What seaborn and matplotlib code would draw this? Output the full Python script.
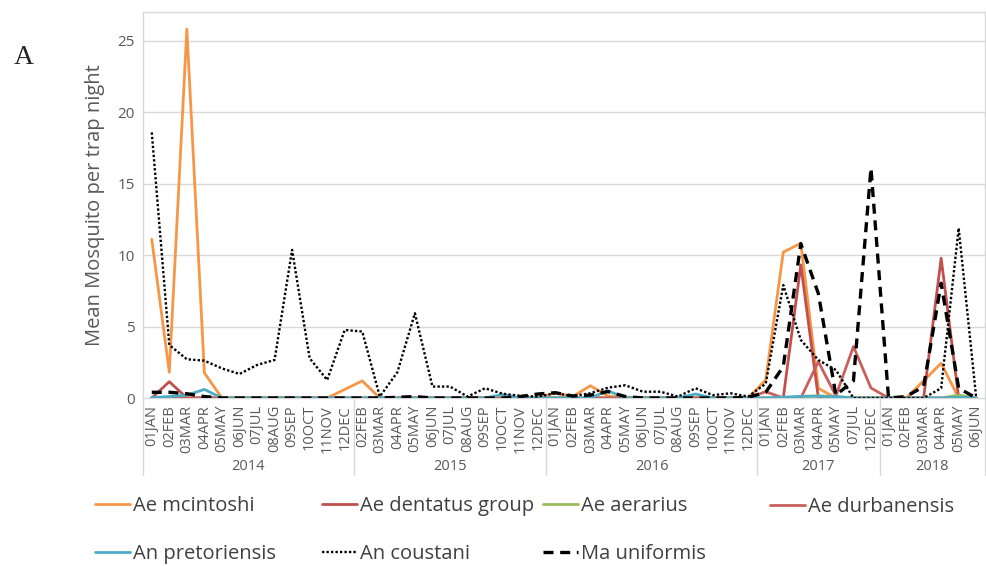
import numpy as np
import pandas as pd
import matplotlib
matplotlib.use("Agg")
import matplotlib.pyplot as plt
import matplotlib.transforms as mtransforms
from matplotlib.lines import Line2D
import seaborn as sns

# ---------------- data ----------------
years = ["2014", "2015", "2016", "2017", "2018"]
months_2014 = ["01JAN", "02FEB", "03MAR", "04APR", "05MAY", "06JUN", "07JUL", "08AUG", "09SEP", "10OCT", "11NOV", "12DEC"]
months_2015 = ["02FEB", "03MAR", "04APR", "05MAY", "06JUN", "07JUL", "08AUG", "09SEP", "10OCT", "11NOV", "12DEC"]
months_2016 = ["01JAN", "02FEB", "03MAR", "04APR", "05MAY", "06JUN", "07JUL", "08AUG", "09SEP", "10OCT", "11NOV", "12DEC"]
months_2017 = ["01JAN", "02FEB", "03MAR", "04APR", "05MAY", "07JUL", "12DEC"]
months_2018 = ["01JAN", "02FEB", "03MAR", "04APR", "05MAY", "06JUN"]
month_groups = [months_2014, months_2015, months_2016, months_2017, months_2018]

ae_mcintoshi = [11.1, 1.8, 25.8, 1.75, 0, 0, 0, 0, 0, 0, 0, 0.6,
                1.2, 0, 0, 0, 0, 0, 0, 0, 0, 0, 0,
                0.37, 0.1, 0.86, 0.14, 0, 0, 0, 0, 0, 0, 0, 0,
                1.26, 10.2, 10.83, 0.68, 0, 0, 0,
                0, 0, 1.2, 2.43, 0, 0]
ae_dentatus = [0, 1.14, 0, 0, 0, 0, 0, 0, 0, 0, 0, 0,
               0, 0, 0, 0, 0, 0, 0, 0, 0, 0, 0,
               0, 0, 0, 0, 0, 0, 0, 0, 0, 0, 0, 0,
               0, 0, 9.31, 0, 0, 0, 0,
               0, 0, 0, 9.78, 0, 0]
ae_aerarius = [0, 0, 0, 0, 0, 0, 0, 0, 0, 0, 0, 0,
               0, 0, 0, 0, 0, 0, 0, 0, 0, 0, 0,
               0, 0, 0, 0, 0, 0, 0, 0, 0, 0, 0, 0,
               0, 0, 0.1, 0.15, 0.1, 0, 0,
               0, 0, 0, 0, 0.2, 0]
ae_durbanensis = [0, 0, 0, 0, 0, 0, 0, 0, 0, 0, 0, 0,
                  0, 0, 0, 0, 0, 0, 0, 0, 0, 0, 0,
                  0, 0, 0, 0, 0, 0, 0, 0, 0, 0, 0, 0,
                  0.44, 0, 0, 2.54, 0.15, 3.6, 0.7,
                  0, 0, 0, 0, 0, 0]
an_pretoriensis = [0.03, 0.1, 0.2, 0.6, 0, 0, 0, 0, 0, 0, 0, 0,
                   0, 0, 0, 0, 0, 0, 0, 0, 0.25, 0, 0,
                   0, 0, 0, 0.51, 0, 0, 0, 0, 0.28, 0, 0, 0,
                   0, 0.05, 0.12, 0.12, 0.1, 0, 0,
                   0, 0, 0, 0, 0.05, 0]
an_coustani = [18.58, 3.71, 2.71, 2.61, 2.07, 1.68, 2.31, 2.66, 10.36, 2.78, 1.26, 4.76,
               4.65, 0.1, 1.8, 5.93, 0.8, 0.8, 0.1, 0.68, 0.3, 0.15, 0.1,
               0.33, 0.14, 0.33, 0.72, 0.89, 0.44, 0.44, 0.1, 0.68, 0.2, 0.33, 0.1,
               1.0, 7.9, 4.06, 2.66, 1.96, 0, 0,
               0, 0, 0, 0.68, 11.88, 0]
ma_uniformis = [0.4, 0.4, 0.3, 0.1, 0, 0, 0, 0, 0, 0, 0, 0,
                0, 0, 0.05, 0.1, 0, 0, 0, 0, 0, 0.1, 0.28,
                0.37, 0.14, 0.2, 0.45, 0.1, 0, 0, 0, 0, 0, 0, 0.05,
                0.4, 2.2, 10.8, 7.3, 0.2, 1.2, 16.08,
                0, 0.1, 0.8, 8.03, 0.68, 0]

series_names = ["Ae mcintoshi", "Ae dentatus group", "Ae aerarius", "Ae durbanensis",
                "An pretoriensis", "An coustani", "Ma uniformis"]
series_values = [ae_mcintoshi, ae_dentatus, ae_aerarius, ae_durbanensis,
                 an_pretoriensis, an_coustani, ma_uniformis]
y_ticks = [0, 5, 10, 15, 20, 25]

# ---------------- styles ----------------
styles = {
    "Ae mcintoshi": dict(color="#F79646", lw=2.0, ls="-"),
    "Ae dentatus group": dict(color="#C0504D", lw=2.0, ls="-"),
    "Ae aerarius": dict(color="#9BBB59", lw=2.0, ls="-"),
    "Ae durbanensis": dict(color="#C9605C", lw=2.0, ls="-"),
    "An pretoriensis": dict(color="#4BACC6", lw=2.0, ls="-"),
    "An coustani": dict(color="black", lw=1.7, ls=(0, (1, 0.9))),
    "Ma uniformis": dict(color="black", lw=2.4, ls=(0, (3.0, 2.0))),
}

sns.set_style("white")
plt.rcParams["font.family"] = ["Open Sans", "DejaVu Sans"]

labels = [m for g in month_groups for m in g]
x = np.arange(len(labels))

fig = plt.figure(figsize=(9.87, 5.66), dpi=100)
ax = fig.add_axes([143 / 987, 1 - 398 / 566, (985 - 143) / 987, (398 - 12) / 566])

grid_c = "#D9D9D9"
for t in y_ticks[1:]:
    ax.axhline(t, color=grid_c, lw=1.0, zorder=0)

handles = {}
for name, vals in zip(series_names, series_values):
    st = styles[name]
    df = pd.DataFrame({"x": x, "y": vals})
    sns.lineplot(data=df, x="x", y="y", ax=ax, color=st["color"], lw=st["lw"],
                 linestyle=st["ls"], zorder=3)
    handles[name] = Line2D([], [], color=st["color"], lw=st["lw"], linestyle=st["ls"])

ax.set_xlim(-0.5, len(labels) - 0.5)
ax.set_ylim(0, 27)
ax.set_yticks(y_ticks)
ax.set_yticklabels([str(t) for t in y_ticks])
ax.set_xticks(x)
ax.set_xticklabels(labels, rotation=90)
ax.tick_params(axis="x", length=0, pad=5, labelsize=10.5, labelcolor="#595959")
ax.tick_params(axis="y", length=0, pad=6, labelsize=11, labelcolor="#595959")
ax.set_xlabel("")
ax.set_ylabel("Mean Mosquito per trap night", fontsize=14.5, color="#595959", labelpad=9)

for sp in ax.spines.values():
    sp.set_color(grid_c)
    sp.set_linewidth(1.0)

# multi-level category axis: separators and year labels
trans = mtransforms.blended_transform_factory(ax.transData, ax.transAxes)
sep_bottom = -(475 - 398) / 386
bounds = np.cumsum([0] + [len(g) for g in month_groups]) - 0.5
for b in bounds:
    ax.plot([b, b], [0, sep_bottom], transform=trans, color=grid_c, lw=1.0, clip_on=False)
for yr, lo, hi in zip(years, bounds[:-1], bounds[1:]):
    ax.text((lo + hi) / 2, -(467 - 398) / 386, yr, transform=trans, ha="center", va="center",
            fontsize=10.5, color="#595959")

# legend: four columns at fixed positions like the original
leg_cols = [["Ae mcintoshi", "An pretoriensis"], ["Ae dentatus group", "An coustani"],
            ["Ae aerarius", "Ma uniformis"], ["Ae durbanensis"]]
col_x = [95, 322, 543, 770]
for names, cx in zip(leg_cols, col_x):
    cy = 530 if len(names) == 2 else 507
    fig.legend([handles[n] for n in names], names, loc="center left",
               bbox_to_anchor=(cx / 987, 1 - cy / 566), frameon=False,
               fontsize=14.5, handlelength=1.75, handletextpad=0.15,
               borderpad=0, borderaxespad=0, labelspacing=1.4, labelcolor="#404040")

fig.text(14 / 987, 1 - 57 / 566, "A", fontsize=20, family="Liberation Serif", va="center", ha="left")

fig.savefig("out.png", dpi=100)
